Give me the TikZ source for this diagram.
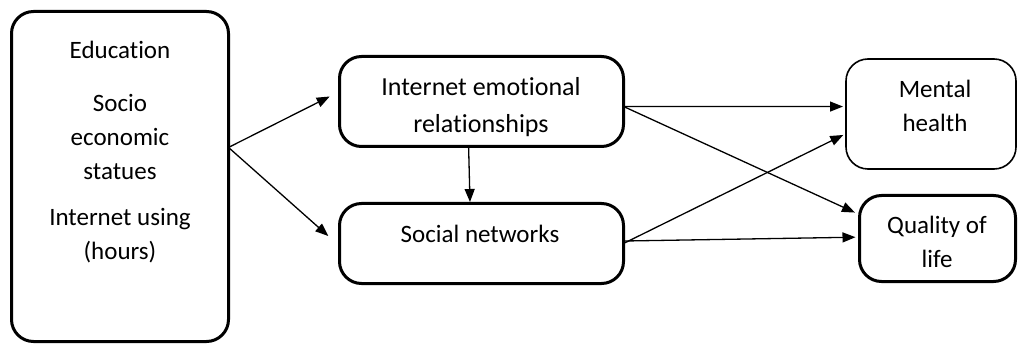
\documentclass[tikz,border=0pt]{standalone}
\usepackage{fontspec}
\setmainfont{Carlito}[Ligatures={NoCommon,NoRare,NoContextual}]
\usetikzlibrary{arrows.meta}
\begin{document}
\begin{tikzpicture}[x=1pt,y=-1pt,
  box/.style={draw,line width=3pt,rounded corners=22pt,inner sep=0pt,outer sep=0pt},
  thinbox/.style={draw,line width=1.6pt,rounded corners=22pt,inner sep=0pt,outer sep=0pt},
  txt/.style={align=center,font=\fontsize{25}{34}\selectfont,inner sep=0pt},
  bigtxt/.style={align=center,font=\fontsize{26}{37}\selectfont,inner sep=0pt},
  arr/.style={line width=1.3pt,-{Triangle[length=13pt,width=10pt]}}]
\useasboundingbox (0,0) rectangle (1019,347);
% boxes
\node[box,minimum width=217pt,minimum height=330pt] (edu) at (120,176.5) {};
\node[box,minimum width=284pt,minimum height=90pt] (ier) at (481.5,101.5) {};
\node[box,minimum width=284pt,minimum height=80pt] (sn) at (481.5,243.5) {};
\node[thinbox,minimum width=170pt,minimum height=110pt] (mh) at (931,114) {};
\node[box,minimum width=156pt,minimum height=86pt] (ql) at (937.5,238.5) {};
% texts
\node[txt] (edutext) at (120,152) {Education\\[19pt]Socio\\economic\\statues\\[12pt]Internet using\\(hours)};
\node[bigtxt] (iertext) at (481,107.5) {Internet emotional\\relationships};
\node[txt] (sntext) at (480,234) {Social networks};
\node[txt] (mhtext) at (935,106) {Mental\\health};
\node[txt] (qltext) at (937,242) {Quality of\\life};
% arrows
\draw[arr,shorten >=11pt] (edu.15) -- (ier.176);
\draw[arr,shorten >=15pt] (edu.15) -- (sn.181);
\draw[arr,shorten >=1.5pt] (ier.254.5) -- (sn.106);
\draw[arr,shorten >=3pt] (ier.-2) -- (mh.175);
\draw[arr,shorten >=5pt] (ier.-2) -- (ql.163);
\draw[arr,shorten >=3pt] (sn.0) -- (mh.193);
\draw[arr,shorten >=4pt] (sn.1) -- (ql.179);
\end{tikzpicture}
\end{document}
